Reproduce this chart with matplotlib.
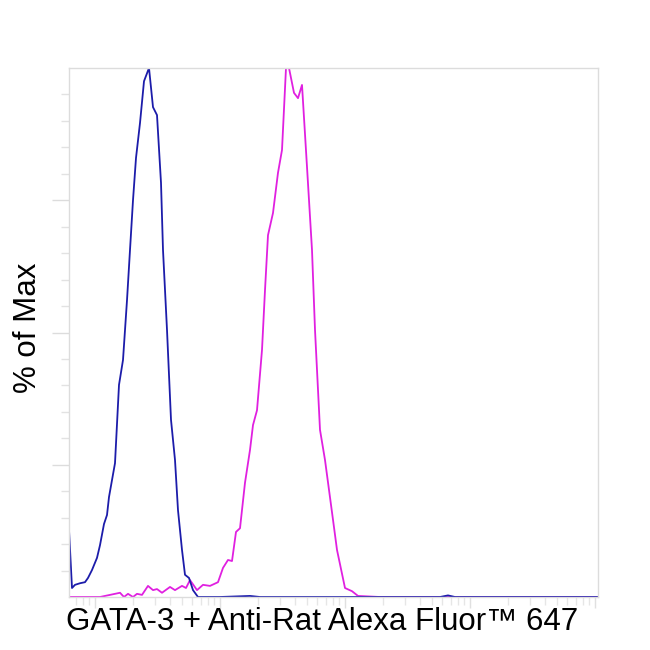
import numpy as np
import matplotlib
matplotlib.use("Agg")
import matplotlib.pyplot as plt
from matplotlib.ticker import FixedLocator, LogLocator, NullFormatter

# Data: log10 of fluorescence intensity and % of max
blue_log = [1.792, 1.816, 1.84, 1.88, 1.92, 1.944, 1.976, 2.016, 2.04, 2.072, 2.096,
            2.112, 2.136, 2.16, 2.192, 2.224, 2.256, 2.28, 2.304, 2.328, 2.36, 2.392,
            2.432, 2.464, 2.496, 2.528, 2.544, 2.576, 2.608, 2.64, 2.664, 2.696, 2.72,
            2.752, 2.784, 2.824, 3.0, 3.24, 3.32, 3.64, 4.44, 4.76, 4.824, 4.88, 6.024]
blue_pct = [12.7, 1.7, 2.3, 2.6, 2.8, 3.6, 5.1, 7.4, 9.8, 13.8, 15.5,
            18.9, 22.1, 25.3, 40.1, 44.8, 56.1, 65.6, 75.0, 83.0, 89.6, 97.5,
            100.0, 92.6, 91.1, 78.3, 65.6, 50.5, 33.5, 25.9, 16.4, 8.9, 4.2,
            3.6, 1.3, 0.0, 0.0, 0.2, 0.0, 0.0, 0.0, 0.0, 0.3, 0.0, 0.0]

mag_log = [1.792, 2.04, 2.12, 2.2, 2.232, 2.264, 2.304, 2.336, 2.376, 2.424, 2.464,
           2.496, 2.536, 2.6, 2.64, 2.696, 2.728, 2.76, 2.816, 2.864, 2.92, 2.984,
           3.024, 3.064, 3.096, 3.128, 3.16, 3.2, 3.24, 3.264, 3.296, 3.336, 3.36,
           3.384, 3.424, 3.464, 3.496, 3.528, 3.552, 3.592, 3.624, 3.656, 3.696,
           3.736, 3.76, 3.8, 3.84, 3.904, 3.936, 4.0, 4.056, 4.104, 4.28, 6.024]
mag_pct = [0.0, 0.0, 0.4, 0.8, 0.0, 0.6, 0.0, 0.6, 0.4, 2.1, 1.3,
           1.5, 0.8, 1.9, 1.3, 2.1, 1.7, 3.2, 1.3, 2.3, 2.1, 2.8,
           5.5, 7.0, 6.8, 12.3, 13.0, 21.6, 27.8, 32.5, 35.3, 46.7, 58.0,
           68.4, 72.6, 80.2, 84.5, 100.0, 100.0, 95.3, 94.3, 96.8, 81.3,
           65.6, 50.5, 31.6, 25.9, 14.6, 8.9, 1.7, 1.1, 0.2, 0.0, 0.0]

xlabel = "GATA-3 + Anti-Rat Alexa Fluor™ 647"
ylabel = "% of Max"

plt.rcParams['font.family'] = ['Liberation Sans', 'DejaVu Sans']

fig = plt.figure(figsize=(6.5, 6.5), dpi=100)
ax = fig.add_axes([69/650, 53/650, 529/650, 529/650])

ax.plot(10**np.array(mag_log), mag_pct, color='#e020e0', lw=1.3)
ax.plot(10**np.array(blue_log), blue_pct, color='#1c1caa', lw=1.3)

ax.set_xscale('log')
ax.set_xlim(10**1.792, 10**6.024)
ax.set_ylim(0, 100)

for s in ax.spines.values():
    s.set_color('#dcdcdc')
    s.set_linewidth(1.0)

ax.xaxis.set_major_locator(LogLocator(base=10, numticks=10))
ax.xaxis.set_minor_locator(LogLocator(base=10, subs=np.arange(2, 10), numticks=20))
ax.xaxis.set_major_formatter(NullFormatter())
ax.xaxis.set_minor_formatter(NullFormatter())
ax.tick_params(axis='x', which='major', length=8, color='#e0e0e0', width=1.0, direction='out')
ax.tick_params(axis='x', which='minor', length=6, color='#e6e6e6', width=1.0, direction='out')

ax.yaxis.set_major_locator(FixedLocator([25, 50, 75]))
ax.yaxis.set_minor_locator(FixedLocator([v for v in range(5, 100, 5) if v % 25 != 0]))
ax.yaxis.set_major_formatter(NullFormatter())
ax.yaxis.set_minor_formatter(NullFormatter())
ax.tick_params(axis='y', which='major', length=12, color='#dcdcdc', width=1.0, direction='out')
ax.tick_params(axis='y', which='minor', length=5.5, color='#e2e2e2', width=1.0, direction='out')

fig.text(322/650, 1 - 630/650, xlabel, fontsize=22.5, ha='center', va='baseline')
fig.text(43/650, 1 - 328/650, ylabel, fontsize=22.5, ha='right', va='center', rotation=90)

fig.savefig('out.png', dpi=100, facecolor='white')
